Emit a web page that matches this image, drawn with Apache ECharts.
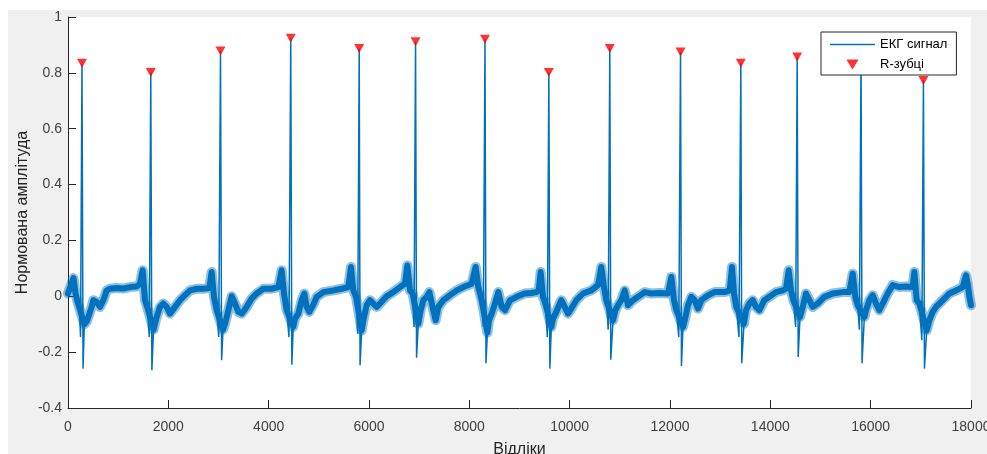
<!DOCTYPE html>
<html>
<head>
<meta charset="utf-8">
<script src="https://cdn.jsdelivr.net/npm/echarts@6/dist/echarts.min.js"></script>
<style>
  html, body { margin: 0; padding: 0; background: #ffffff; }
  #chart { position: absolute; left: 8px; top: 10px; width: 979px; height: 444px; }
</style>
</head>
<body>
<div id="chart"></div>
<script>
// ECG recording: slow baseline (with noise band) between beats, [sample, amplitude]
const ecgBaseline = [
  [0, 0.010], [40, 0.030], [70, 0.045], [110, 0.065], [150, 0.010], [190, -0.020], [225, -0.040],
  [325, -0.100], [372, -0.090], [405, -0.074], [472, -0.038], [505, -0.014], [571, -0.020], [638, -0.038],
  [704, -0.014], [771, 0.021], [837, 0.027], [970, 0.030], [1103, 0.028], [1236, 0.033], [1369, 0.035],
  [1435, 0.045], [1488, 0.093], [1535, -0.014], [1582, -0.040],
  [1705, -0.120], [1734, -0.098], [1767, -0.074], [1834, -0.038], [1900, -0.026], [1967, -0.038],
  [2033, -0.062], [2133, -0.038], [2233, -0.014], [2332, 0.004], [2432, 0.021], [2565, 0.027],
  [2698, 0.027], [2817, 0.030], [2864, 0.087], [2910, -0.002], [2964, -0.050],
  [3090, -0.120], [3130, -0.098], [3196, -0.050], [3263, 0.000], [3329, -0.026], [3396, -0.056],
  [3462, -0.062], [3562, -0.038], [3661, -0.008], [3761, 0.010], [3894, 0.027], [4060, 0.027],
  [4193, 0.033], [4259, 0.093], [4306, 0.010], [4359, -0.050],
  [4490, -0.110], [4525, -0.080], [4591, -0.062], [4658, -0.014], [4711, 0.010], [4757, -0.038],
  [4810, -0.056], [4890, -0.030], [4957, -0.002], [5090, 0.015], [5289, 0.021], [5455, 0.027],
  [5588, 0.033], [5641, 0.105], [5688, 0.021], [5741, -0.002],
  [5854, -0.122], [5887, -0.086], [5953, -0.032], [6020, -0.014], [6086, -0.026], [6153, -0.038],
  [6219, -0.026], [6352, 0.000], [6485, 0.015], [6618, 0.033], [6718, 0.045], [6764, 0.110],
  [6817, 0.021], [6870, 0.010],
  [6983, -0.098], [7030, -0.050], [7083, -0.014], [7150, -0.002], [7203, 0.015], [7282, -0.050],
  [7329, -0.086], [7382, -0.038], [7482, -0.014], [7615, 0.004], [7748, 0.021], [7880, 0.033],
  [8047, 0.045], [8126, 0.105], [8179, 0.033], [8246, -0.014],
  [8360, -0.130], [8392, -0.086], [8445, -0.062], [8512, -0.026], [8578, 0.015], [8645, -0.038],
  [8711, -0.050], [8811, -0.014], [8944, -0.002], [9103, 0.010], [9236, 0.012], [9335, 0.015],
  [9382, 0.021], [9422, 0.087], [9468, -0.002], [9515, -0.026],
  [9635, -0.110], [9668, -0.080], [9734, -0.056], [9801, -0.026], [9834, -0.014], [9900, -0.038],
  [9967, -0.062], [10033, -0.044], [10133, -0.014], [10266, 0.010], [10432, 0.021], [10565, 0.040],
  [10631, 0.105], [10684, 0.033], [10731, -0.014],
  [10864, -0.086], [10910, -0.050], [10964, -0.032], [11030, -0.014], [11097, 0.021], [11163, -0.032],
  [11263, -0.014], [11362, -0.002], [11495, 0.015], [11628, 0.010], [11794, 0.012], [11960, 0.010],
  [12027, 0.069], [12080, -0.014], [12127, -0.050],
  [12259, -0.110], [12293, -0.086], [12359, -0.032], [12426, -0.002], [12492, -0.014], [12558, -0.044],
  [12625, -0.014], [12758, 0.004], [12891, 0.015], [13090, 0.015], [13190, 0.021], [13236, 0.105],
  [13276, 0.010], [13322, -0.038],
  [13475, -0.098], [13515, -0.050], [13581, -0.026], [13648, -0.014], [13714, -0.038], [13781, -0.050],
  [13880, -0.014], [13980, -0.002], [14113, 0.015], [14246, 0.021], [14312, 0.027], [14366, 0.093],
  [14412, 0.021], [14459, -0.014],
  [14592, -0.074], [14645, -0.038], [14711, 0.010], [14778, -0.014], [14844, -0.038], [14944, -0.026],
  [15077, -0.002], [15243, 0.010], [15442, 0.015], [15575, 0.015], [15642, 0.081], [15695, -0.002],
  [15741, -0.032],
  [15874, -0.074], [15907, -0.050], [15974, -0.014], [16040, 0.004], [16107, -0.026], [16173, -0.050],
  [16240, -0.026], [16339, 0.010], [16439, 0.040], [16572, 0.033], [16705, 0.035], [16838, 0.033],
  [16871, 0.087], [16917, -0.014], [16970, -0.026],
  [17117, -0.122], [17170, -0.086], [17236, -0.056], [17303, -0.038], [17369, -0.026], [17469, -0.008],
  [17568, 0.010], [17701, 0.021], [17834, 0.033], [17901, 0.075], [17934, 0.045], [17968, -0.002],
  [18000, -0.032]
];

// Q dips just before each R wave
const qDips = [
  [250, -0.146], [1620, -0.146], [3005, -0.146], [4405, -0.146], [5775, -0.134], [6897, -0.110],
  [8280, -0.110], [9555, -0.146], [10768, -0.120], [12175, -0.146], [13375, -0.146], [14505, -0.110],
  [15775, -0.120], [17020, -0.157]
];

// detected R peaks
const rPeakSamples = [279, 1650, 3040, 4440, 5805, 6928, 8312, 9585, 10800, 12210, 13412, 14535, 15808, 17052];
const rPeakValues = [0.834, 0.801, 0.878, 0.924, 0.887, 0.911, 0.920, 0.801, 0.887, 0.875, 0.834, 0.857, 0.860, 0.773];

// S troughs right after each R wave
const sTroughs = [
  [300, -0.259], [1672, -0.265], [3062, -0.229], [4462, -0.245], [5822, -0.247], [6948, -0.220],
  [8332, -0.240], [9605, -0.259], [10820, -0.227], [12228, -0.250], [13430, -0.240], [14555, -0.217],
  [15828, -0.240], [17072, -0.259]
];

const xTickStep = 2000;
const yTickStep = 0.2;

const rPeaks = rPeakSamples.map((s, i) => [s, rPeakValues[i]]);
const ecgTrace = ecgBaseline.concat(qDips, rPeaks, sTroughs).sort((a, b) => a[0] - b[0]);

const ecgColor = '#0072BD';
const axisColor = '#262626';
const fontFamily = 'Liberation Sans, Arial, sans-serif';
const labelFont = { fontFamily: fontFamily, fontSize: 14, color: '#404040' };

const chart = echarts.init(document.getElementById('chart'), null, { renderer: 'canvas' });
chart.setOption({
  animation: false,
  backgroundColor: '#f0f0f0',
  grid: {
    left: 60, top: 7, right: 16, bottom: 46,
    outerBoundsMode: 'none', containLabel: false,
    show: true, backgroundColor: '#ffffff', borderWidth: 0
  },
  legend: {
    orient: 'vertical',
    left: 813, top: 22, z: 10,
    padding: [6, 9, 4, 9],
    itemWidth: 45, itemHeight: 10, itemGap: 7,
    symbolKeepAspect: true,
    backgroundColor: '#ffffff',
    borderColor: axisColor, borderWidth: 1, borderRadius: 0,
    data: [
      { name: 'ЕКГ сигнал', icon: 'path://M0,0H45V1.4H0Z' },
      { name: 'R-зубці', icon: 'path://M0,0L11,0L5.5,9Z' }
    ],
    textStyle: { fontFamily: fontFamily, fontSize: 13, color: '#000000' }
  },
  xAxis: {
    type: 'value', min: 0, max: 18000, interval: xTickStep,
    name: 'Відліки', nameLocation: 'middle', nameGap: 34, nameMoveOverlap: false,
    nameTextStyle: { fontFamily: fontFamily, fontSize: 16, color: '#262626' },
    axisLine: { show: true, onZero: false, lineStyle: { color: axisColor, width: 1 } },
    axisTick: { show: true, inside: true, length: 8, lineStyle: { color: axisColor } },
    axisLabel: Object.assign({ margin: 12, formatter: v => String(v) }, labelFont),
    splitLine: { show: false }
  },
  yAxis: {
    type: 'value', min: -0.4, max: 1, interval: yTickStep,
    name: 'Нормована амплітуда', nameLocation: 'middle', nameGap: 37, nameMoveOverlap: false,
    nameTextStyle: { fontFamily: fontFamily, fontSize: 16, color: '#262626' },
    axisLine: { show: true, onZero: false, lineStyle: { color: axisColor, width: 1 } },
    axisTick: { show: true, inside: true, length: 8, lineStyle: { color: axisColor } },
    axisLabel: Object.assign({ margin: 6, formatter: v => String(+v.toFixed(1)) }, labelFont),
    splitLine: { show: false }
  },
  series: [
    {
      name: 'ЕКГ сигнал', type: 'line', data: ecgTrace,
      symbol: 'none', lineStyle: { color: ecgColor, width: 1.5 }, itemStyle: { color: ecgColor },
      z: 3
    },
    {
      // soft outer edge of the noise band
      name: 'ЕКГ сигнал', type: 'line', data: ecgBaseline,
      symbol: 'none', lineStyle: { color: ecgColor, width: 10, opacity: 0.45, join: 'round', cap: 'round' },
      itemStyle: { color: ecgColor }, z: 2
    },
    {
      // dense core of the noise band
      name: 'ЕКГ сигнал', type: 'line', data: ecgBaseline,
      symbol: 'none', lineStyle: { color: ecgColor, width: 6, join: 'round', cap: 'round' },
      itemStyle: { color: ecgColor }, z: 3
    },
    {
      name: 'R-зубці', type: 'scatter', data: rPeaks,
      symbol: 'triangle', symbolRotate: 180, symbolSize: [10, 9],
      itemStyle: { color: '#ff0000' }, z: 4
    }
  ]
});
</script>
</body>
</html>
